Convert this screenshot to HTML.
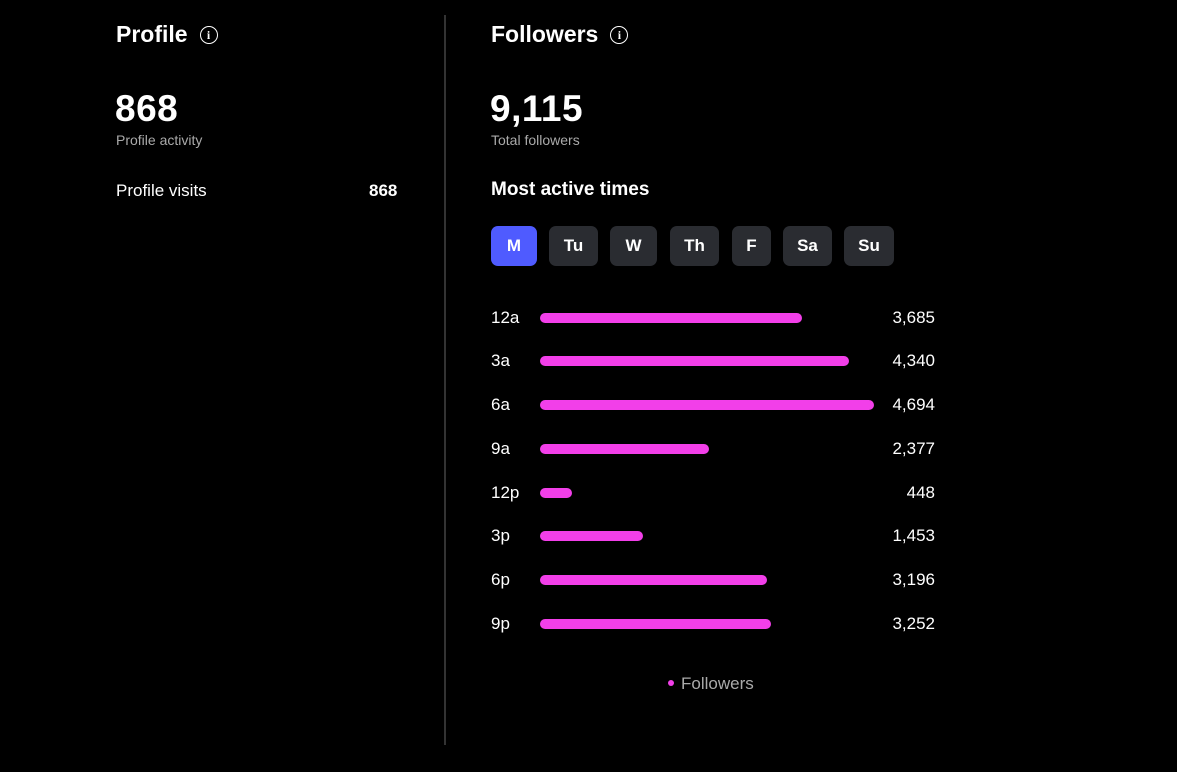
<!DOCTYPE html>
<html><head><meta charset="utf-8"><style>
body{margin:0;width:1177px;height:772px;background:#000;color:#fff;font-family:"Liberation Sans",sans-serif;position:relative;overflow:hidden}
.a{position:absolute;white-space:nowrap}
.h{font-size:23px;font-weight:bold}
.big{font-size:37px;font-weight:bold;letter-spacing:0.5px}
.sub{font-size:14px;color:#aaa}
.info{display:inline-block;width:16px;height:16px;border:1.6px solid #fff;border-radius:50%;font-size:12px;line-height:16px;text-align:center;font-weight:bold;font-family:"Liberation Serif",serif;vertical-align:3px;margin-left:12px}
.btn{position:absolute;top:226px;height:40px;border-radius:7px;background:#2a2c31;font-weight:bold;font-size:17px;line-height:40px;text-align:center}
.lab{position:absolute;left:491px;font-size:17px}
.val{position:absolute;right:242px;font-size:17px;text-align:right}
.bar{position:absolute;left:540px;height:10px;border-radius:5px;background:#f23fe9}
</style></head><body>
<div class="a h" style="left:116px;top:21px">Profile<span class="info">i</span></div>
<div class="a big" style="left:115px;top:88px">868</div>
<div class="a sub" style="left:116px;top:132px">Profile activity</div>
<div class="a" style="left:116px;top:181px;font-size:17px">Profile visits</div>
<div class="a" style="left:369px;top:181px;font-size:17px;font-weight:bold">868</div>
<div class="a" style="left:444px;top:15px;width:2px;height:730px;background:#333"></div>
<div class="a h" style="left:491px;top:21px">Followers<span class="info">i</span></div>
<div class="a big" style="left:490px;top:88px">9,115</div>
<div class="a sub" style="left:491px;top:132px">Total followers</div>
<div class="a" style="left:491px;top:179px;font-size:19px;font-weight:bold">Most active times</div>
<div class="btn" style="left:491px;width:46px;background:#4f5bff">M</div>
<div class="btn" style="left:549px;width:49px">Tu</div>
<div class="btn" style="left:610px;width:47px">W</div>
<div class="btn" style="left:670px;width:49px">Th</div>
<div class="btn" style="left:732px;width:39px">F</div>
<div class="btn" style="left:783px;width:49px">Sa</div>
<div class="btn" style="left:844px;width:50px">Su</div>

<div class="lab" style="top:308px">12a</div><div class="bar" style="top:313px;width:262px"></div><div class="val" style="top:308px">3,685</div>
<div class="lab" style="top:351px">3a</div><div class="bar" style="top:356px;width:309px"></div><div class="val" style="top:351px">4,340</div>
<div class="lab" style="top:395px">6a</div><div class="bar" style="top:400px;width:334px"></div><div class="val" style="top:395px">4,694</div>
<div class="lab" style="top:439px">9a</div><div class="bar" style="top:444px;width:169px"></div><div class="val" style="top:439px">2,377</div>
<div class="lab" style="top:483px">12p</div><div class="bar" style="top:488px;width:32px"></div><div class="val" style="top:483px">448</div>
<div class="lab" style="top:526px">3p</div><div class="bar" style="top:531px;width:103px"></div><div class="val" style="top:526px">1,453</div>
<div class="lab" style="top:570px">6p</div><div class="bar" style="top:575px;width:227px"></div><div class="val" style="top:570px">3,196</div>
<div class="lab" style="top:614px">9p</div><div class="bar" style="top:619px;width:231px"></div><div class="val" style="top:614px">3,252</div>

<div class="a" style="left:668px;top:680px;width:6px;height:6px;border-radius:50%;background:#f23fe9"></div>
<div class="a" style="left:681px;top:674px;font-size:17px;color:#aaa">Followers</div>
</body></html>
